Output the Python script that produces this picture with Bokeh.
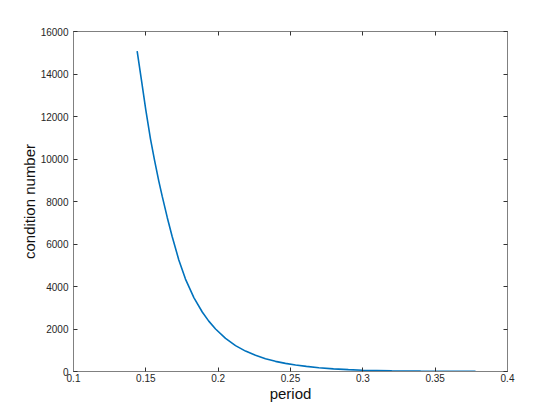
from bokeh.plotting import figure
from bokeh.models import LinearAxis, FixedTicker, CustomJSTickFormatter, Range1d
from bokeh.embed import file_html
from bokeh.resources import INLINE

# values
period = [0.1440, 0.1470, 0.1500, 0.1532, 0.1560, 0.1590, 0.1613, 0.1648,
          0.1682, 0.1728, 0.1774, 0.1832, 0.1890, 0.1935, 0.1982, 0.2051,
          0.2120, 0.2189, 0.2258, 0.2327, 0.2396, 0.2465, 0.2535, 0.2610,
          0.2696, 0.2797, 0.2900, 0.2996, 0.3200, 0.3400, 0.3600, 0.3779]
cond = [15080, 13700, 12300, 10950, 9950, 8950, 8250, 7250,
        6350, 5250, 4350, 3480, 2800, 2370, 2000, 1560,
        1220, 960, 760, 600, 478, 383, 305, 240,
        180, 125, 88, 62, 31, 16, 8, 4.5]
x_ticks = [0.1, 0.15, 0.2, 0.25, 0.3, 0.35, 0.4]
y_ticks = [0, 2000, 4000, 6000, 8000, 10000, 12000, 14000, 16000]

FONT = "Liberation Sans"
AX = "#808080"
TXT = "#262626"

p = figure(width=544, height=404, output_backend="svg", toolbar_location=None,
           x_range=Range1d(0.1, 0.4), y_range=Range1d(0, 16000),
           min_border_left=73, min_border_right=37, min_border_top=31,
           min_border_bottom=31, x_axis_label="period",
           y_axis_label="condition number")
p.xgrid.visible = False
p.ygrid.visible = False
p.outline_line_color = AX
p.outline_line_width = 1
p.background_fill_color = "white"
p.border_fill_color = "white"

p.line(period, cond, line_color="#0072BD", line_width=1.6)

fmt = CustomJSTickFormatter(code="return String(tick);")
for ax, ticks in ((p.xaxis[0], x_ticks), (p.yaxis[0], y_ticks)):
    ax.ticker = FixedTicker(ticks=ticks)
    ax.formatter = fmt
    ax.axis_line_color = AX
    ax.major_tick_line_color = "#333333"
    ax.major_tick_in = 4
    ax.major_tick_out = 0
    ax.minor_tick_line_color = None
    ax.major_label_text_font = FONT
    ax.major_label_text_font_size = "10px"
    ax.major_label_text_color = TXT
    ax.axis_label_text_font = FONT
    ax.axis_label_text_font_size = "15px"
    ax.axis_label_text_font_style = "normal"
    ax.axis_label_text_color = "#111111"
    ax.axis_label_standoff = 0
p.xaxis[0].major_label_standoff = 2
p.yaxis[0].major_label_standoff = 5

empty = CustomJSTickFormatter(code="return '';")
for loc, ticks in (("above", x_ticks), ("right", y_ticks)):
    a = LinearAxis(ticker=FixedTicker(ticks=ticks), formatter=empty,
                   axis_line_color=AX, major_tick_line_color="#333333",
                   major_tick_in=4, major_tick_out=0,
                   minor_tick_line_color=None,
                   major_label_text_font_size="0px", major_label_standoff=0)
    p.add_layout(a, loc)

open("out.html", "w").write(file_html(p, INLINE))
